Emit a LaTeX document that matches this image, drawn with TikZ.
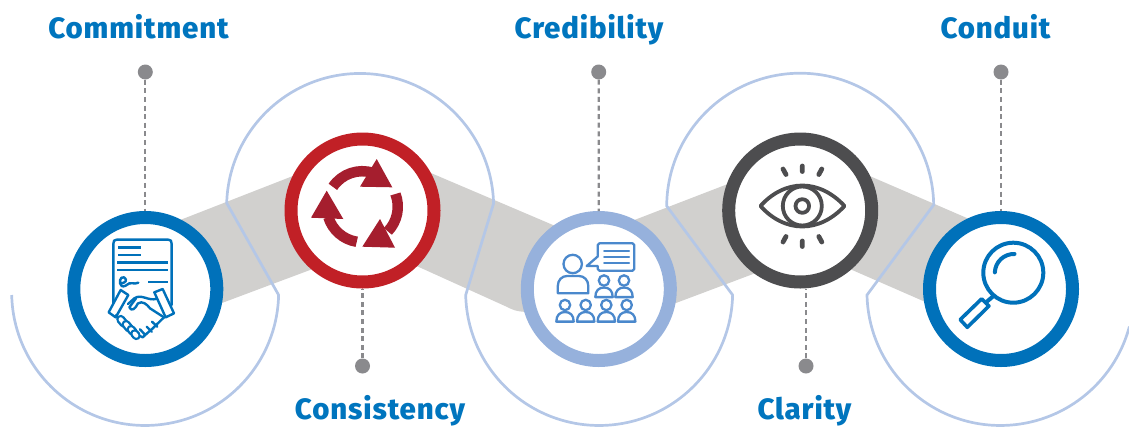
\documentclass[tikz,border=0pt]{standalone}
\usepackage{fontspec}
\setmainfont{Fira Sans}[BoldFont={Fira Sans ExtraBold}]
\definecolor{cblue}{HTML}{0071BA}
\definecolor{ctext}{HTML}{0075BE}
\definecolor{cred}{HTML}{C12026}
\definecolor{credd}{HTML}{A51E2E}
\definecolor{cperi}{HTML}{96B1DC}
\definecolor{cdark}{HTML}{4D4D4F}
\definecolor{cband}{HTML}{D1D0CE}
\definecolor{carc}{HTML}{B4C7E7}
\definecolor{cicon}{HTML}{4A88CC}
\definecolor{cdot}{HTML}{8A8A8D}
\tikzset{
  ringnode/.style={circle,draw=#1,line width=13pt,fill=white,minimum size=143pt,inner sep=0pt},
  dotnode/.style={circle,fill=cdot,minimum size=15pt,inner sep=0pt},
  dashline/.style={cdot,line width=2.3pt,dash pattern=on 5pt off 3.6pt},
  head/.style={ctext,font=\bfseries\fontsize{29.4}{31}\selectfont\addfontfeatures{LetterSpace=3},anchor=base,inner sep=0pt},
  band/.style={fill=cband,draw=none},
  arcline/.style={carc,line width=2.7pt,line join=miter},
  ico/.style={line width=#1,line cap=round,line join=round},
}
\newcommand{\pers}[2]{%
  \draw (#1,#2) circle[radius=5.2];
  \draw (#1-8.7,#2+16.6) .. controls (#1-8.7,#2+10) and (#1-5,#2+7) .. (#1,#2+7)
     .. controls (#1+5,#2+7) and (#1+8.7,#2+10) .. (#1+8.7,#2+16.6) -- cycle;
}
\newcommand{\fing}[4]{%
  \draw[cblue,line width=9pt,line cap=round] (#1,#2) -- (#3,#4);
  \draw[white,line width=4.2pt,line cap=round] (#1,#2) -- (#3,#4);
}
\begin{document}
\begin{tikzpicture}[x=1pt,y=1pt,yscale=-1]
\useasboundingbox (0,0) rectangle (1129,426);
\clip (0,0) rectangle (1129,426);
% grey band
\fill[band] (175,222) -- (298,174) -- (318,267) -- (215,305.6) -- cycle;
\fill[band] (425,170.5) -- (561,228.4) -- (530,312) .. controls (516,312) and (512,309.5) .. (505,306) -- (410,263) -- cycle;
\fill[band] (630,221.7) -- (733,182) -- (760,271.4) -- (668,306) -- cycle;
\fill[band] (865,174) -- (975,221.5) -- (930,304) -- (843,266) -- cycle;
% arcs
\draw[arcline] (11.7,295) arc[start angle=178.7,end angle=1.3,radius=133.5]
  -- (226.7,203) arc[start angle=181.7,end angle=358.5,radius=133.5]
  -- (465.7,295) arc[start angle=178.7,end angle=1.3,radius=133.5]
  -- (666.7,206) arc[start angle=180.3,end angle=359.2,radius=133.5]
  -- (867,295) arc[start angle=178.7,end angle=15,radius=133.5];
% rings
\node[ringnode=cblue] (r1) at (145.3,289) {};
\node[ringnode=cred] (r2) at (362.5,210.5) {};
\node[ringnode=cperi] (r3) at (598.8,289) {};
\node[ringnode=cdark] (r4) at (800.2,210.5) {};
\node[ringnode=cblue] (r5) at (1001,289) {};
% dots
\node[dotnode] (d1) at (145.3,72) {};
\node[dotnode] (d2) at (362.5,366) {};
\node[dotnode] (d3) at (598.7,72) {};
\node[dotnode] (d4) at (806,366) {};
\node[dotnode] (d5) at (1001,72) {};
\draw[dashline] (d1) -- (r1);
\draw[dashline] (d2) -- (r2);
\draw[dashline] (d3) -- (r3);
\draw[dashline] (d4) -- (d4 |- r4.south);
\draw[dashline] (d5) -- (r5);
% labels
\node[head] (t1) at (138.5,38) {Commitment};
\node[head] (t2) at (380,419) {Consistency};
\node[head] (t3) at (589,38) {Credibility};
\node[head] (t4) at (804.5,419) {Clarity};
\node[head] (t5) at (995.5,38) {Conduit};
% icon 1: contract and handshake
\begin{scope}[shift={(100,230)},scale=1/3,cblue,ico=2.4pt]
  \draw (40,235) -- (40,42) .. controls (40,33) and (42,29) .. (50,29) -- (205,29) .. controls (213,29) and (215,33) .. (215,42) -- (215,225);
  \draw[line width=2.5pt,line cap=butt] (55,52) -- (122,52) (55,75) -- (122,75) (52,98) -- (203,98) (52,120) -- (203,120) (145,156) -- (203,156);
  \draw (62,160) .. controls (75,160) and (85,150) .. (72,142) .. controls (60,138) and (55,160) .. (65,168) .. controls (72,172) and (80,165) .. (88,160) .. controls (95,155) and (100,165) .. (115,158);
  \draw[fill=white] (62,180) -- (85,195) -- (47,262) -- (26,247) -- cycle;
  \draw[fill=white] (163,187) -- (188,177) -- (222,250) -- (197,262) -- cycle;
  \draw (84,222) -- (103,205) .. controls (125,190) and (145,215) .. (171,206);
  \draw (48,256) -- (60,268);
  \draw (192,262) -- (150,303) (156,275) -- (172,290) (140,290) -- (155,305);
  \draw (150,302) -- (128,322) -- (120,318) (120,298) -- (135,314);
  \draw[fill=white] (108,205) -- (88,232) .. controls (95,245) and (105,238) .. (114,220) .. controls (128,212) and (140,222) .. (150,235) -- (192,262);
\end{scope}
\begin{scope}[shift={(100,230)},scale=1/3]
  \fing{62}{268}{72}{280}
  \fing{78}{283}{88}{295}
  \fing{93}{298}{100}{306}
  \fing{104}{311}{109}{317}
\end{scope}
% icon 2: cycle arrows
\fill[credd] (376.7,159) -- (392.3,187.3) -- (360,186.7) -- cycle;
\fill[credd] (380,219) -- (395,247.7) -- (362.3,246.7) -- cycle;
\fill[credd] (326.7,190.7) -- (343.3,219) -- (311,217.7) -- cycle;
\draw[credd,line width=10.5pt] (362.3,206.7) ++(-146:35.5) arc[start angle=-146,end angle=-72,radius=35.5];
\draw[credd,line width=10.5pt] (362.3,206.7) ++(-21:35.5) arc[start angle=-21,end angle=44,radius=35.5];
\draw[credd,line width=10.5pt] (362.3,206.7) ++(99:35.5) arc[start angle=99,end angle=163,radius=35.5];
% icon 3: speaker and audience
\begin{scope}[cicon,ico=2.3pt]
  \draw (572.7,264) circle[radius=9.2];
  \draw (557.8,293.3) -- (588.3,293.3) -- (588.3,286) .. controls (588.3,280) and (584,276) .. (579,276) -- (567,276) .. controls (562,276) and (557.8,280) .. (557.8,286) -- cycle;
  \draw (597.7,256.5) -- (597.7,245) .. controls (597.7,244) and (598.5,243.3) .. (599.5,243.3) -- (632.5,243.3) .. controls (633.5,243.3) and (634.3,244) .. (634.3,245) -- (634.3,269) .. controls (634.3,270) and (633.5,270.7) .. (632.5,270.7) -- (599.5,270.7) .. controls (598.5,270.7) and (597.7,270) .. (597.7,269) -- (597.7,266) -- (586.7,266) -- cycle;
  \draw[line width=2pt] (604,251) -- (629,251) (604,257) -- (629,257) (604,263) -- (629,263);
  \pers{604}{280.5}
  \pers{624}{280.5}
  \pers{565}{305}
  \pers{585.7}{305}
  \pers{606.3}{305}
  \pers{626.7}{305}
\end{scope}
% icon 4: eye
\begin{scope}[cdark,ico=3.8pt]
  \draw (760.5,206) .. controls (772,193) and (787,185.5) .. (802.3,185.5) .. controls (817.6,185.5) and (832.6,193) .. (844.5,206) .. controls (832.6,219) and (817.6,226.5) .. (802.3,226.5) .. controls (787,226.5) and (772,219) .. (760.5,206) -- cycle;
  \draw (802.3,206) circle[radius=19.5];
  \draw (802.3,206) circle[radius=6.8];
  \draw[line width=4.8pt] (802.3,166) -- (802.3,171.5) (783,169) -- (786,174.5) (821.8,169) -- (818.8,174.5);
  \draw[line width=4.8pt] (802.3,241) -- (802.3,246.5) (786,236.5) -- (783,242) (818.8,236.5) -- (821.8,242);
\end{scope}
% icon 5: magnifier
\begin{scope}[cblue,ico=4pt]
  \draw (1013.3,272.7) circle[radius=30];
  \draw (1014.5,254) arc[start angle=-88,end angle=-178,radius=19];
  \draw (993.5,296) -- (987,301.5);
  \draw[line width=3.6pt] (981.7,298.8) -- (988.9,306) -- (967.3,327.3) -- (960.2,319.6) -- cycle;
\end{scope}
\end{tikzpicture}
\end{document}
